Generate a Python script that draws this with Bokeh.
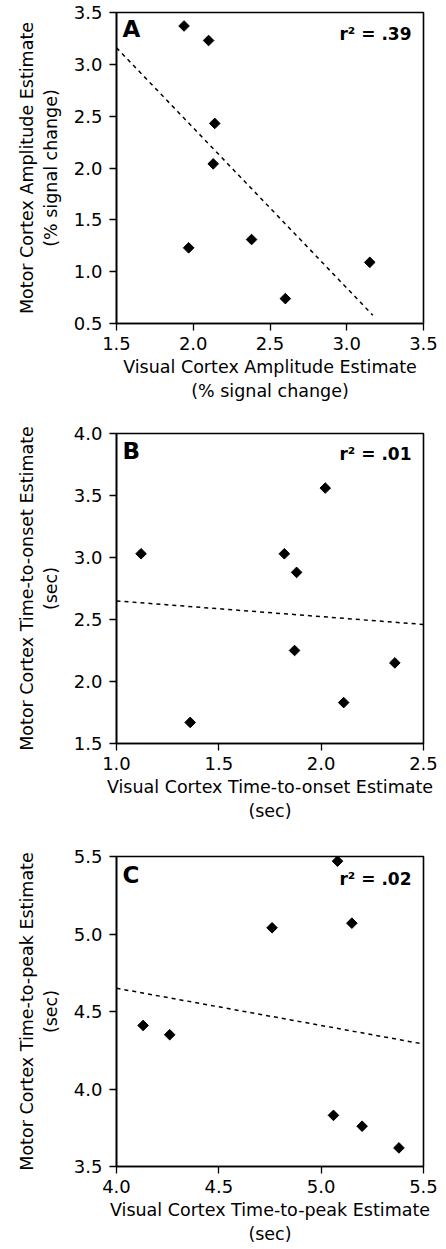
from bokeh.plotting import figure
from bokeh.layouts import column
from bokeh.models import Range1d, FixedTicker, PrintfTickFormatter, Label
from bokeh.embed import file_html
from bokeh.resources import INLINE
import math

# ---- Panel A: amplitude ----
a_visual = [1.94, 2.10, 2.14, 2.13, 1.97, 2.38, 2.60, 3.15]
a_motor = [3.37, 3.23, 2.43, 2.04, 1.23, 1.31, 0.74, 1.09]
a_fit_x = [1.5, 3.17]
a_fit_y = [3.16, 0.58]
a_xticks = [1.5, 2.0, 2.5, 3.0, 3.5]
a_yticks = [0.5, 1.0, 1.5, 2.0, 2.5, 3.0, 3.5]
a_r2 = "r² = .39"

# ---- Panel B: time-to-onset ----
b_visual = [1.12, 1.36, 1.82, 1.88, 2.02, 1.87, 2.11, 2.36]
b_motor = [3.03, 1.67, 3.03, 2.88, 3.56, 2.25, 1.83, 2.15]
b_fit_x = [1.0, 2.5]
b_fit_y = [2.65, 2.46]
b_xticks = [1.0, 1.5, 2.0, 2.5]
b_yticks = [1.5, 2.0, 2.5, 3.0, 3.5, 4.0]
b_r2 = "r² = .01"

# ---- Panel C: time-to-peak ----
c_visual = [4.13, 4.26, 4.76, 5.08, 5.15, 5.06, 5.20, 5.38]
c_motor = [4.41, 4.35, 5.04, 5.47, 5.07, 3.83, 3.76, 3.62]
c_fit_x = [4.0, 5.5]
c_fit_y = [4.65, 4.29]
c_xticks = [4.0, 4.5, 5.0, 5.5]
c_yticks = [3.5, 4.0, 4.5, 5.0, 5.5]
c_r2 = "r² = .02"

FONT = "DejaVu Sans"


def panel(letter, r2, xs, ys, fx, fy, xticks, yticks, xlabel, ylabel,
          height, left, right, bottom, letter_dy, r2_dy):
    xr = (xticks[0], xticks[-1])
    yr = (yticks[0], yticks[-1])
    p = figure(width=446, height=height, output_backend="svg",
               toolbar_location=None,
               x_range=Range1d(*xr), y_range=Range1d(*yr),
               min_border_left=left, min_border_right=right,
               min_border_top=12, min_border_bottom=bottom)
    p.background_fill_color = "white"
    p.border_fill_color = "white"
    p.outline_line_color = "black"
    p.outline_line_width = 1.6
    p.grid.visible = False

    for ax, ticks in ((p.xaxis, xticks), (p.yaxis, yticks)):
        ax.ticker = FixedTicker(ticks=ticks)
        ax.formatter = PrintfTickFormatter(format="%.1f")
        ax.minor_tick_line_color = None
        ax.major_tick_in = 0
        ax.major_tick_out = 7
        ax.major_tick_line_width = 1.3
        ax.axis_line_width = 1.6
        ax.axis_line_color = "black"
        ax.major_tick_line_color = "black"
        ax.major_label_text_font = FONT
        ax.major_label_text_font_size = "18px"
        ax.major_label_text_color = "black"
        ax.axis_label_text_font = FONT
        ax.axis_label_text_font_size = "17.5px"
        ax.axis_label_text_font_style = "normal"
        ax.axis_label_text_color = "black"
    p.xaxis.major_label_standoff = 6
    p.xaxis.axis_label_standoff = 4
    p.yaxis.major_label_standoff = 7
    p.yaxis.axis_label_standoff = 10
    p.xaxis.axis_label = xlabel
    p.yaxis.axis_label = ylabel

    p.line(fx, fy, line_color="black", line_width=1.5, line_dash="4 4")
    p.scatter(xs, ys, marker="square", size=7.5, angle=math.pi / 4,
              fill_color="black", line_color="black")

    p.add_layout(Label(x=xr[0], y=yr[1], x_offset=6, y_offset=letter_dy,
                       text=letter, text_font=FONT, text_font_style="bold",
                       text_font_size="23px", text_align="left",
                       text_baseline="top", text_color="black"))
    p.add_layout(Label(x=xr[1], y=yr[1], x_offset=-12, y_offset=r2_dy,
                       text=r2, text_font=FONT, text_font_style="bold",
                       text_font_size="17px", text_align="right",
                       text_baseline="top", text_color="black"))
    return p


pa = panel("A", a_r2, a_visual, a_motor, a_fit_x, a_fit_y, a_xticks, a_yticks,
           "Visual Cortex Amplitude Estimate\n(% signal change)",
           "Motor Cortex Amplitude Estimate\n(% signal change)",
           421, 113, 23, 98, -3, -11)
pb = panel("B", b_r2, b_visual, b_motor, b_fit_x, b_fit_y, b_xticks, b_yticks,
           "Visual Cortex Time-to-onset Estimate\n(sec)",
           "Motor Cortex Time-to-onset Estimate\n(sec)",
           423, 114, 22, 101, -4, -10)
pc = panel("C", c_r2, c_visual, c_motor, c_fit_x, c_fit_y, c_xticks, c_yticks,
           "Visual Cortex Time-to-peak Estimate\n(sec)",
           "Motor Cortex Time-to-peak Estimate\n(sec)",
           405, 116, 21, 83, -5, -12)

layout = column(pa, pb, pc, spacing=0)
open("out.html", "w").write(file_html(layout, INLINE))
